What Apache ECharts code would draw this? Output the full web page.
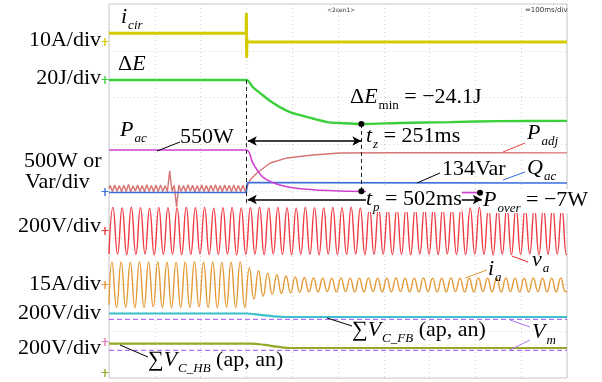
<!DOCTYPE html>
<html><head><meta charset="utf-8">
<script src="https://cdn.jsdelivr.net/npm/echarts@6/dist/echarts.min.js"></script>
<style>html,body{margin:0;padding:0;background:#fff}#c{width:602px;height:382px}</style>
</head><body><div id="c"></div>
<script>
// ---------------- DATA (time in ms, values in physical units) ----------------
const icirT = [0, 299.5, 300, 300.6, 301.2, 302, 1000];
const icirV = [1.9, 1.9, 6.2, -3.4, 0.6, 0, 0];            // A

const dET = [0, 300, 314, 330, 352, 373, 395, 417, 450, 476, 504, 551, 635, 745, 854, 1000];
const dEV = [0, 0, -3.0, -5.6, -9.0, -11.6, -13.7, -15.0, -16.7, -18.0, -18.4, -18.8, -18.4, -18.0, -17.6, -17.5]; // J

const pacT = [0, 300, 314, 336, 373, 424, 504, 635, 810, 1000];
const pacV = [449, 449, 310, 160, 75, 32, 11, 3, -7, -4];  // W

// P_adj ripple before the step: half-cycle extremes (100 Hz), then the rise
const padjTop = [70, 75, 68, 72, 80, 66, 74, 70, 78, 69, 73, 76, 67, 225, 71, 74, 69, 77, 72, 68, 75, 70, 73, 78, 69, 74, 71, 76, 70, 73];
const padjBot = [4, 8, 2, 6, 3, 9, 5, 3, 7, 2, 6, 4, 2, 8, -160, 5, 3, 8, 2, 6, 4, 2, 7, 5, 3, 8, 2, 6, 4, 6];
const padjPostT = [300, 308, 323, 352, 389, 445, 504, 620, 800, 1000];
const padjPostV = [40, 128, 203, 310, 364, 396, 417, 420, 420, 418];

const qacT = [0, 300, 302, 306, 320, 1000];
const qacV = [-5, -5, 100, 112, 100, 96];                   // Var

// v_a and i_a: peak / trough of every 50 Hz cycle
const vaTop = [101,99,102,100,98,101,100,99,102,100,101,98,100,101,99,100,102,99,101,100,98,101,100,99,101,100,102,99,100,101,99,100,101,98,100,102,99,101,100,99,101,100,98,101,100,99,102,100,101,99];
const vaBot = [-99,-101,-100,-98,-102,-100,-99,-101,-100,-98,-101,-100,-99,-102,-100,-99,-101,-98,-100,-101,-99,-100,-102,-99,-101,-100,-98,-101,-100,-99,-101,-100,-102,-99,-100,-101,-98,-100,-101,-99,-100,-102,-99,-101,-100,-98,-101,-100,-99,-101];
const iaTop = [7.3,7.4,7.2,7.5,7.3,7.4,7.3,7.2,7.4,7.5,7.3,7.4,7.2,7.3,7.4,5.5,4.6,3.8,3.3,2.9,2.6,2.4,2.3,2.2,2.2,2.3,2.2,2.2,2.3,2.2,2.2,2.3,2.2,2.2,2.3,2.2,2.2,2.3,2.2,2.2,2.3,2.2,2.2,2.3,2.2,2.2,2.3,2.2,2.2,2.3];
const iaBot = [-7.2,-7.1,-7.3,-7.2,-7.0,-7.2,-7.3,-7.1,-7.2,-7.0,-7.2,-7.3,-7.1,-7.2,-7.2,-4.5,-3.6,-3.0,-2.7,-2.5,-2.3,-2.2,-2.2,-2.1,-2.2,-2.1,-2.2,-2.2,-2.1,-2.2,-2.2,-2.1,-2.2,-2.2,-2.1,-2.2,-2.2,-2.1,-2.2,-2.2,-2.1,-2.2,-2.2,-2.1,-2.2,-2.2,-2.1,-2.2,-2.2,-2.1];

const vfbT = [0, 300, 330, 360, 395, 1000];
const vfbV = [122, 122, 116, 110, 107, 107];               // V
const vhbT = [0, 310, 340, 370, 400, 1000];
const vhbV = [126, 126, 120, 112, 107, 107];               // V
const vmV = 97;                                            // V (dashed reference)

const tStep = 300, tZ = 551, tP = 810;
const dEmin = -18.8, pOver = -7;

// ---------------- channel display settings ----------------
const CH = {
  icir: {scale: 10,  ground: 7.187, color: '#d4cc00'},
  dE:   {scale: 20,  ground: 6.374, color: '#3ccf3c'},
  pq:   {scale: 500, ground: 3.979, color: '#3c6fdc'},
  va:   {scale: 200, ground: 3.144, color: '#f03c44'},
  ia:   {scale: 15,  ground: 1.989, color: '#e49a35'},
  fb:   {scale: 200, ground: 0.770, color: '#e080b0'},
  hb:   {scale: 200, ground: 0.107, color: '#98a828'}
};
const toDiv = (ch, v) => CH[ch].ground + v / CH[ch].scale;
const pairs = (ch, T, V) => T.map((t, i) => [t, toDiv(ch, V[i])]);
function wave(ch, top, bot, firstPeak, period, startV, endV) {
  const d = [[0, toDiv(ch, startV)]];
  for (let k = 0; k < top.length; k++) {
    d.push([firstPeak + period * k, toDiv(ch, top[k])]);
    d.push([firstPeak + period * k + period / 2, toDiv(ch, bot[k])]);
  }
  d.push([1000, toDiv(ch, endV)]);
  return d;
}
const padjData = [[0, toDiv('pq', 40)]];
for (let k = 0; k < padjTop.length; k++) {
  padjData.push([2.5 + 10 * k, toDiv('pq', padjTop[k])]);
  padjData.push([7.5 + 10 * k, toDiv('pq', padjBot[k])]);
}
padjPostT.forEach((t, i) => padjData.push([t, toDiv('pq', padjPostV[i])]));

const F = '"Liberation Serif","DejaVu Serif",serif';
const rich = {
  m:  {fontFamily: F, fontStyle: 'italic', fontSize: 22, lineHeight: 24, verticalAlign: 'top', fill: '#000'},
  r:  {fontFamily: F, fontSize: 22, lineHeight: 24, verticalAlign: 'top', fill: '#000'},
  s:  {fontFamily: F, fontStyle: 'italic', fontSize: 13, lineHeight: 13, padding: [13, 0, 0, 1], verticalAlign: 'top', fill: '#000'},
  sr: {fontFamily: F, fontSize: 13, lineHeight: 13, padding: [13, 0, 0, 1], verticalAlign: 'top', fill: '#000'}
};
function rt(x, y, text, extra) {
  return {type: 'text', x, y, z: 100, style: Object.assign({text, rich, align: 'left', verticalAlign: 'top'}, extra || {})};
}
function lbl(x, y, text, align) {
  return {type: 'text', x, y, z: 100, style: {text, font: '22px ' + F, fill: '#000', align: align || 'right', verticalAlign: 'middle'}};
}
function ln(x1, y1, x2, y2, c) {
  return {type: 'line', z: 100, shape: {x1, y1, x2, y2}, style: {stroke: c, lineWidth: 1}};
}

const line = (name, data, color, width, extra) => Object.assign({
  type: 'line', name, data, showSymbol: false, symbol: 'none', silent: true,
  lineStyle: {color, width}, animation: false
}, extra || {});

// channel ground markers on the left edge (drawn at the channel ground level)
const markerSeries = Object.keys(CH).map(k => ({
  type: 'line', data: [], silent: true, animation: false,
  markPoint: {silent: true, symbol: 'path://M0,0 L4,0 L4,-3 L6,-3 L6,0 L10,0 L10,1 L6,1 L6,5 L4,5 L4,1 L0,1 Z',
    symbolSize: [7, 8], symbolOffset: [-4, 0], itemStyle: {color: CH[k].color}, label: {show: false},
    data: [{coord: [0, CH[k].ground]}]}
}));

const option = {
  animation: false,
  grid: {left: 109, top: 4, width: 458, height: 374, show: true, borderColor: '#c8c8c8', borderWidth: 1},
  xAxis: {type: 'value', min: 0, max: 1000, interval: 100,
    axisLine: {show: false}, axisTick: {show: false}, axisLabel: {show: false},
    splitLine: {show: true, lineStyle: {color: '#d4d4d4', type: [1, 3]}}},
  yAxis: {type: 'value', min: 0, max: 8, interval: 1,
    axisLine: {show: false}, axisTick: {show: false}, axisLabel: {show: false},
    splitLine: {show: true, lineStyle: {color: '#d4d4d4', type: [1, 3]}}},
  series: [
    line('Vm_fb', [[0, toDiv('fb', vmV)], [1000, toDiv('fb', vmV)]], '#b070f0', 1.3, {lineStyle: {color: '#b070f0', width: 1.3, type: [5, 3]}}),
    line('Vm_hb', [[0, toDiv('hb', vmV)], [1000, toDiv('hb', vmV)]], '#b070f0', 1.3, {lineStyle: {color: '#b070f0', width: 1.3, type: [5, 3]}}),
    line('VC_FB', pairs('fb', vfbT, vfbV), '#3fbfcc', 2.2, {smooth: 0.3}),
    line('VC_HB', pairs('hb', vhbT, vhbV), '#98a828', 2.2, {smooth: 0.3}),
    line('ia', wave('ia', iaTop, iaBot, 6.5, 20, -6.3, -2.0), '#e49a35', 1.4, {smooth: true}),
    line('va', wave('va', vaTop, vaBot, 8.7, 20, -98, -99), '#f03c44', 1.4, {smooth: true}),
    line('Padj', padjData, '#d87474', 1.4),
    line('Qac', pairs('pq', qacT, qacV), '#3c6fdc', 1.6),
    line('Pac', pairs('pq', pacT, pacV), '#d040d0', 1.6, {smooth: 0.3}),
    line('dE', pairs('dE', dET, dEV), '#3ccf3c', 2.4, {smooth: 0.3}),
    line('icir', pairs('icir', icirT, icirV), '#d4cc00', 3),
    { type: 'line', data: [], silent: true, animation: false,
      markLine: {silent: true, symbol: ['none', 'none'], label: {show: false},
        lineStyle: {color: '#222', width: 1, type: [4, 3]},
        data: [
          [{coord: [tStep, toDiv('dE', 0)]}, {coord: [tStep, 3.72]}],
          [{coord: [tZ, toDiv('dE', dEmin)]}, {coord: [tZ, toDiv('pq', 8)]}]
        ]},
      markPoint: {silent: true, symbol: 'circle', symbolSize: 6, itemStyle: {color: '#000'}, label: {show: false},
        data: [
          {coord: [tZ, toDiv('dE', dEmin)]},
          {coord: [tZ, toDiv('pq', 8)]},
          {coord: [tP, toDiv('pq', pOver)]}
        ]}
    },
    { type: 'line', data: [], silent: true, animation: false,
      markLine: {silent: true, symbol: ['arrow', 'arrow'], symbolSize: [7, 9], label: {show: false},
        lineStyle: {color: '#000', width: 1.5, type: 'solid'},
        data: [
          [{coord: [303, 5.07]}, {coord: [551, 5.07]}],
          [{coord: [303, 3.818]}, {coord: [814, 3.818]}]
        ]}
    }
  ].concat(markerSeries),
  graphic: [
    // channel scale labels
    lbl(101, 40, '10A/div'),
    lbl(101, 78, '20J/div'),
    lbl(24, 161, '500W or', 'left'),
    lbl(25, 182, 'Var/div', 'left'),
    lbl(101, 226, '200V/div'),
    lbl(101, 284, '15A/div'),
    lbl(101, 313, '200V/div'),
    lbl(101, 348, '200V/div'),
    // scope header texts
    {type: 'text', x: 327, y: 10, z: 100, style: {text: '<2sen1>', font: '6px "DejaVu Sans"', fill: '#333', verticalAlign: 'middle'}},
    {type: 'text', x: 525, y: 10, z: 100, style: {text: '=100ms/div', font: '7px "DejaVu Sans"', fill: '#333', verticalAlign: 'middle'}},
    // trace annotations
    rt(121, 6, '{m|i}{s|cir}'),
    rt(118, 53, '{r|Δ}{m|E}'),
    rt(120, 119, '{m|P}{s|ac}'),
    rt(180, 126, '{r|550W}'),
    rt(350, 86, '{r|Δ}{m|E}{sr|min}{r| = −24.1J}'),
    rt(366, 125, '{m|t}{s|z}{r| = 251ms}'),
    rt(527, 122, '{m|P}{s|adj}'),
    rt(442, 158, '{r|134Var}'),
    rt(527, 157, '{m|Q}{s|ac}'),
    rt(366, 188, '{m|t}{s|p}{r| = 502ms}', {backgroundColor: '#fff'}),
    rt(483, 189, '{m|P}{s|over}{r| = −7W}', {backgroundColor: '#fff'}),
    rt(532, 249, '{m|v}{s|a}'),
    rt(488, 258, '{m|i}{s|a}'),
    rt(352, 319, '{r|∑}{m|V}{s|C_FB}{r| (ap, an)}'),
    rt(532, 321, '{m|V}{s|m}'),
    rt(148, 349, '{r|∑}{m|V}{s|C_HB}{r| (ap, an)}'),
    // leader lines
    ln(157, 151, 180, 142, '#000'),
    ln(503, 152, 525, 143, '#e04040'),
    ln(417, 183, 440, 173, '#000'),
    ln(503, 180, 525, 172, '#2f6ae0'),
    ln(512, 256, 528, 262, '#e02020'),
    ln(465, 278, 487, 270, '#e49a35'),
    ln(327, 318, 352, 326, '#000'),
    ln(510, 320, 530, 327, '#b070f0'),
    ln(510, 350, 530, 340, '#b070f0'),
    ln(120, 345, 148, 357, '#000')
  ]
};
const chart = echarts.init(document.getElementById('c'), null, {renderer: 'canvas'});
chart.setOption(option);
</script>
</body></html>
